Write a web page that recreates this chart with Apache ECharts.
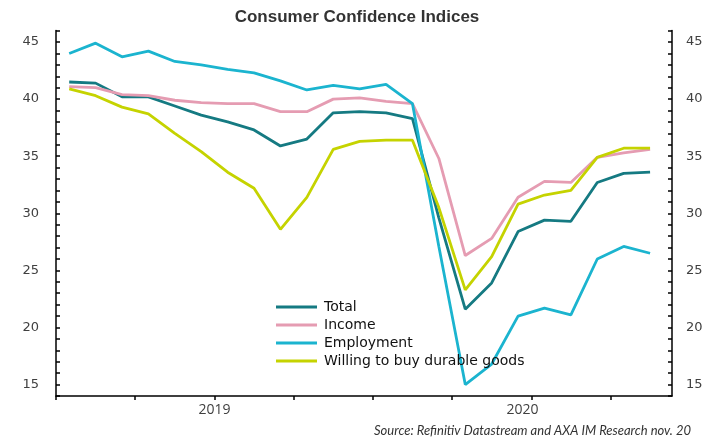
<!DOCTYPE html>
<html>
<head>
<meta charset="utf-8">
<script src="https://cdn.jsdelivr.net/npm/echarts@6/dist/echarts.min.js"></script>
<style>
  html, body { margin: 0; padding: 0; background: #fff; }
  #chart { width: 714px; height: 438px; }
</style>
</head>
<body>
<div id="chart"></div>
<script>
// Monthly survey readings, Jan 2019 – Nov 2020
const months = [
  '2019-01','2019-02','2019-03','2019-04','2019-05','2019-06','2019-07','2019-08','2019-09','2019-10','2019-11','2019-12',
  '2020-01','2020-02','2020-03','2020-04','2020-05','2020-06','2020-07','2020-08','2020-09','2020-10','2020-11'
];
const total      = [41.5, 41.4, 40.2, 40.2, 39.4, 38.6, 38.0, 37.3, 35.9, 36.5, 38.8, 38.9, 38.8, 38.3, 29.6, 21.6, 23.9, 28.4, 29.4, 29.3, 32.7, 33.5, 33.6];
const income     = [41.1, 41.0, 40.4, 40.3, 39.9, 39.7, 39.6, 39.6, 38.9, 38.9, 40.0, 40.1, 39.8, 39.6, 34.8, 26.3, 27.8, 31.4, 32.8, 32.7, 34.9, 35.3, 35.6];
const employment = [44.0, 44.9, 43.7, 44.2, 43.3, 43.0, 42.6, 42.3, 41.6, 40.8, 41.2, 40.9, 41.3, 39.6, 27.1, 15.0, 16.8, 21.0, 21.7, 21.1, 26.0, 27.1, 26.5];
const durables   = [40.9, 40.3, 39.3, 38.7, 37.0, 35.4, 33.6, 32.2, 28.6, 31.4, 35.6, 36.3, 36.4, 36.4, 30.5, 23.3, 26.2, 30.8, 31.6, 32.0, 34.9, 35.7, 35.7];

const seriesNames = ['Total', 'Income', 'Employment', 'Willing to buy durable goods'];
const seriesColors = ['#157a82', '#e59cb2', '#1bb4cf', '#c5d300'];
const years = ['2019', '2020'];
const yTickLabels = [15, 20, 25, 30, 35, 40, 45];

// Time scale: months since Jan 2019, each reading placed mid-month
const firstYear = 2019;
const xMax = 23.33;
function monthPos(m) {
  const [y, mo] = m.split('-').map(Number);
  return (y - firstYear) * 12 + (mo - 1) + 0.5;
}
const quarterTicks = [];
for (let q = 0; q < xMax; q += 3) quarterTicks.push(q);
// Year labels sit in the middle of the visible part of each year
const yearCenters = years.map((y, i) => {
  const start = i * 12;
  const end = Math.min(start + 12, xMax);
  return (start + end) / 2;
});

const pairs = arr => arr.map((v, i) => [monthPos(months[i]), v]);
const allSeries = [total, income, employment, durables];

const yAxisBase = {
  type: 'value',
  min: 14,
  max: 46,
  interval: 1,
  splitLine: { show: false },
  axisLine: { show: true, lineStyle: { color: '#000', width: 1.5 } },
  axisTick: { show: true, inside: true, length: 4, lineStyle: { color: '#000', width: 1.5 } },
  axisLabel: {
    color: '#404040',
    fontFamily: 'DejaVu Sans',
    fontSize: 13,
    formatter: v => (yTickLabels.indexOf(v) >= 0 ? String(v) : '')
  }
};

const chart = echarts.init(document.getElementById('chart'), null, { renderer: 'canvas' });
chart.setOption({
  animation: false,
  backgroundColor: '#fff',
  title: {
    text: 'Consumer Confidence Indices',
    left: 'center',
    top: 9,
    padding: 0,
    textStyle: { fontFamily: 'Liberation Sans', fontSize: 17, fontWeight: 'bold', color: '#333' }
  },
  grid: { left: 56, right: 42, top: 30.6, bottom: 42 },
  legend: {
    orient: 'vertical',
    left: 276,
    top: 299.5,
    padding: 0,
    icon: 'rect',
    itemWidth: 41,
    itemHeight: 3,
    itemGap: 3,
    textStyle: { fontFamily: 'DejaVu Sans', fontSize: 14, color: '#111', lineHeight: 15, padding: [0, 0, 0, 2] },
    data: seriesNames
  },
  xAxis: {
    type: 'value',
    min: 0,
    max: xMax,
    splitLine: { show: false },
    axisLine: { show: true, lineStyle: { color: '#000', width: 1.5 } },
    axisTick: { show: true, length: 4, customValues: quarterTicks, lineStyle: { color: '#000', width: 1.5 } },
    axisLabel: {
      customValues: yearCenters,
      margin: 7,
      color: '#404040',
      fontFamily: 'Open Sans',
      fontSize: 14,
      formatter: v => years[Math.floor(v / 12)]
    }
  },
  yAxis: [
    Object.assign({}, yAxisBase, { position: 'left', axisLabel: Object.assign({}, yAxisBase.axisLabel, { margin: 17 }) }),
    Object.assign({}, yAxisBase, { position: 'right', axisLabel: Object.assign({}, yAxisBase.axisLabel, { margin: 14 }) })
  ],
  series: allSeries.map((arr, i) => ({
    name: seriesNames[i],
    type: 'line',
    data: pairs(arr),
    showSymbol: false,
    symbol: 'none',
    color: seriesColors[i],
    lineStyle: { width: 2.8, color: seriesColors[i] }
  })),
  graphic: [{
    type: 'text',
    right: 23,
    top: 424,
    style: {
      text: 'Source: Refinitiv Datastream and AXA IM Research nov. 20',
      fontFamily: 'Lato',
      fontStyle: 'italic',
      fontSize: 13,
      fill: '#333'
    }
  }]
});
</script>
</body>
</html>
